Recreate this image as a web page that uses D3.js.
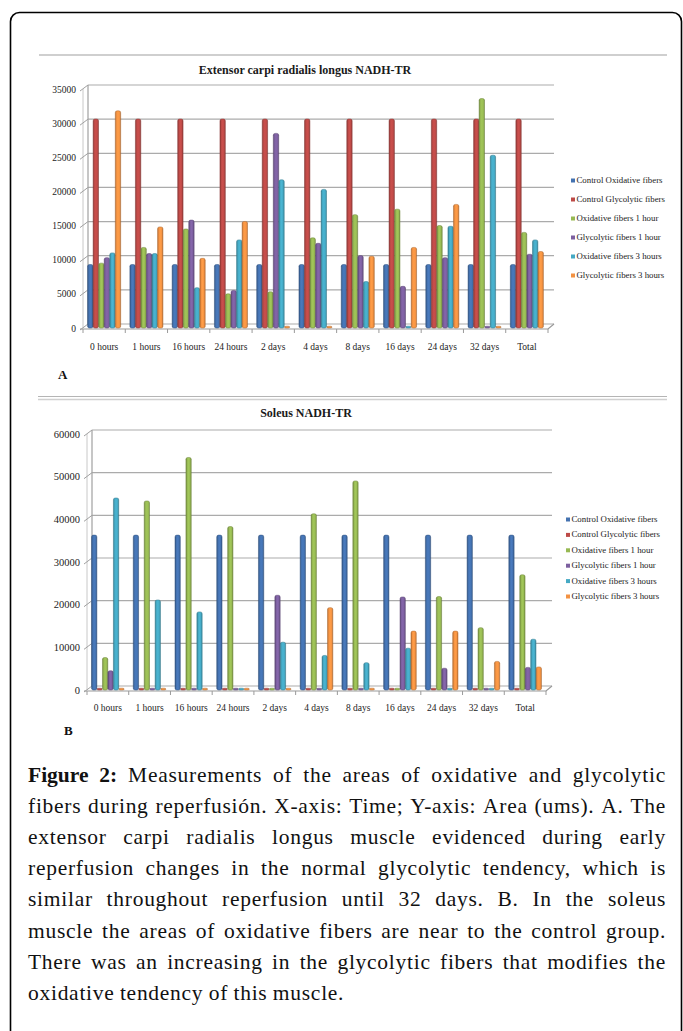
<!DOCTYPE html>
<html>
<head>
<meta charset="utf-8">
<script src="https://cdn.jsdelivr.net/npm/d3@7"></script>
<style>
  body { margin: 0; background: #fff; }
  svg { display: block; }
</style>
</head>
<body>
<div id="fig"></div>
<script>
// categories and series
const categories = ["0 hours", "1 hours", "16 hours", "24 hours", "2 days", "4 days", "8 days", "16 days", "24 days", "32 days", "Total"];
const seriesNames = ["Control Oxidative fibers", "Control Glycolytic fibers", "Oxidative fibers 1 hour",
                     "Glycolytic fibers 1 hour", "Oxidative fibers 3 hours", "Glycolytic fibers 3 hours"];
const seriesColors = ["#4472b0", "#bd4a47", "#97b953", "#7c5f9f", "#45a9c4", "#f39242"];

// A. Extensor carpi radialis longus NADH-TR
const ecrlControlOx  = [9300, 9300, 9300, 9300, 9300, 9300, 9300, 9300, 9300, 9300, 9300];
const ecrlControlGly = [30600, 30600, 30600, 30600, 30600, 30600, 30600, 30600, 30600, 30600, 30600];
const ecrlOx1h       = [9500, 11800, 14500, 5000, 5300, 13200, 16600, 17400, 15000, 33600, 14000];
const ecrlGly1h      = [10300, 10900, 15800, 5500, 28500, 12400, 10600, 6100, 10300, 0, 10800];
const ecrlOx3h       = [11000, 10900, 5900, 12900, 21700, 20300, 6800, 150, 14900, 25300, 12900];
const ecrlGly3h      = [31800, 14800, 10200, 15600, 0, 0, 10500, 11800, 18100, 0, 11200];
const ecrlTicks      = [0, 5000, 10000, 15000, 20000, 25000, 30000, 35000];

// B. Soleus NADH-TR
const solControlOx  = [36300, 36300, 36300, 36300, 36300, 36300, 36300, 36300, 36300, 36300, 36300];
const solControlGly = [0, 0, 0, 0, 0, 0, 0, 0, 0, 0, 0];
const solOx1h       = [7600, 44300, 54500, 38300, 0, 41300, 49000, 0, 21900, 14600, 27000];
const solGly1h      = [4500, 0, 0, 0, 22200, 0, 0, 21800, 5100, 0, 5300];
const solOx3h       = [45000, 21100, 18300, 0, 11200, 8100, 6400, 9800, 0, 0, 11900];
const solGly3h      = [0, 0, 0, 0, 0, 19300, 0, 13800, 13800, 6700, 5400];
const solTicks      = [0, 10000, 20000, 30000, 40000, 50000, 60000];

const captionLines = [
  "Figure 2: Measurements of the areas of oxidative and glycolytic",
  "fibers during reperfusión. X-axis: Time; Y-axis: Area (ums). A. The",
  "extensor carpi radialis longus muscle evidenced during early",
  "reperfusion changes in the normal glycolytic tendency, which is",
  "similar throughout reperfusion until 32 days. B. In the soleus",
  "muscle the areas of oxidative fibers are near to the control group.",
  "There was an increasing in the glycolytic fibers that modifies the",
  "oxidative tendency of this muscle."
];

const SERIF = "'Liberation Serif', 'Times New Roman', serif";
const W = 683, H = 1031;
const svg = d3.select("#fig").append("svg")
    .attr("width", W)
    .attr("height", H);

// column gradients (3d look)
const defs = svg.append("defs");
seriesColors.forEach((c, i) => {
    const g = defs.append("linearGradient")
        .attr("id", "grad" + i)
        .attr("x1", "0%").attr("x2", "100%").attr("y1", "0%").attr("y2", "0%");
    const base = d3.color(c);
    g.append("stop").attr("offset", "0%").attr("stop-color", base.darker(0.9));
    g.append("stop").attr("offset", "25%").attr("stop-color", base);
    g.append("stop").attr("offset", "50%").attr("stop-color", base.brighter(0.2));
    g.append("stop").attr("offset", "80%").attr("stop-color", base);
    g.append("stop").attr("offset", "100%").attr("stop-color", base.darker(0.9));
});

// outer frame
svg.append("rect")
    .attr("x", 10.5).attr("y", 12.5)
    .attr("width", 671).attr("height", 1060)
    .attr("rx", 9)
    .attr("fill", "none")
    .attr("stroke", "#000")
    .attr("stroke-width", 1.6);

// image borders
svg.append("line").attr("x1", 39).attr("x2", 667).attr("y1", 55).attr("y2", 55)
    .attr("stroke", "#cfcfcf").attr("stroke-width", 2);
svg.append("line").attr("x1", 38).attr("x2", 667).attr("y1", 396.5).attr("y2", 396.5)
    .attr("stroke", "#b5b5b5").attr("stroke-width", 1);
svg.append("line").attr("x1", 38).attr("x2", 667).attr("y1", 399.5).attr("y2", 399.5)
    .attr("stroke", "#d0d0d0").attr("stroke-width", 1.5);

function drawChart(cfg) {
    const g = svg.append("g");
    const series = cfg.series;

    const y = d3.scaleLinear().domain([0, cfg.yMax]).range([cfg.yBottom, cfg.yTop]);
    const x = d3.scaleBand().domain(categories).range([cfg.xLeft, cfg.xRight])
        .paddingInner(0.21).paddingOuter(0.105);
    const xs = d3.scaleBand().domain(d3.range(series.length)).range([0, x.bandwidth()]).padding(0.03);

    const dx = 5, dy = -4;   // back wall offset

    // gridlines on the back wall
    g.selectAll(".grid").data(cfg.ticks).enter().append("line")
        .attr("x1", cfg.xLeft + dx).attr("x2", cfg.xRight + dx + 1)
        .attr("y1", d => y(d) + dy).attr("y2", d => y(d) + dy)
        .attr("stroke", "#ababab").attr("stroke-width", 1.2);

    // left wall edge and diagonal ticks
    g.append("line")
        .attr("x1", cfg.xLeft + dx).attr("x2", cfg.xLeft + dx)
        .attr("y1", y(cfg.yMax) + dy).attr("y2", y(0) + dy)
        .attr("stroke", "#a0a0a0").attr("stroke-width", 1.2);
    g.append("line")
        .attr("x1", cfg.xLeft).attr("x2", cfg.xLeft)
        .attr("y1", y(cfg.yMax)).attr("y2", y(0))
        .attr("stroke", "#c8c8c8").attr("stroke-width", 1);
    g.selectAll(".ytick").data(cfg.ticks).enter().append("line")
        .attr("x1", cfg.xLeft - 3).attr("x2", cfg.xLeft + dx)
        .attr("y1", d => y(d) + 2).attr("y2", d => y(d) + dy)
        .attr("stroke", "#a0a0a0").attr("stroke-width", 1);

    // floor front edge
    g.append("path")
        .attr("d", `M${cfg.xLeft - 3},${y(0) + 1} L${cfg.xRight},${y(0) + 1} L${cfg.xRight + dx + 1},${y(0) + dy}`)
        .attr("fill", "none").attr("stroke", "#9a9a9a").attr("stroke-width", 1.2);

    // category tick marks
    const bounds = categories.map(c => x(c) - x.step() * x.paddingInner() / 2).concat([cfg.xRight]);
    g.selectAll(".xtick").data(bounds).enter().append("line")
        .attr("x1", d => d).attr("x2", d => d)
        .attr("y1", y(0) + 1).attr("y2", y(0) + 5)
        .attr("stroke", "#9a9a9a").attr("stroke-width", 1);

    // y labels
    g.selectAll(".ylab").data(cfg.ticks).enter().append("text")
        .attr("x", cfg.yLabelX).attr("y", d => y(d) + 3.5)
        .attr("text-anchor", "end")
        .attr("font-family", SERIF)
        .attr("font-size", cfg.yLabelSize)
        .attr("fill", "#222")
        .text(d => d);

    // x labels
    g.selectAll(".xlab").data(categories).enter().append("text")
        .attr("x", d => x(d) + x.bandwidth() / 2).attr("y", cfg.xLabelY)
        .attr("text-anchor", "middle")
        .attr("font-family", SERIF)
        .attr("font-size", "9.5px")
        .attr("fill", "#222")
        .text(d => d);

    // bars
    series.forEach((vals, si) => {
        g.selectAll(".bar" + si).data(vals).enter().append("rect")
            .attr("x", (d, i) => x(categories[i]) + xs(si))
            .attr("width", xs.bandwidth())
            .attr("y", d => Math.min(y(d), y(0) - 1.8))
            .attr("height", d => Math.max(y(0) - y(d), 1.8))
            .attr("rx", 1.8)
            .attr("fill", "url(#grad" + si + ")")
            .attr("stroke", d3.color(seriesColors[si]).darker(0.9))
            .attr("stroke-width", 0.5);
    });

    // title
    g.append("text")
        .attr("x", cfg.titleX).attr("y", cfg.titleY)
        .attr("text-anchor", "middle")
        .attr("font-family", SERIF)
        .attr("font-weight", "bold")
        .attr("font-size", "12px")
        .attr("fill", "#1a1a1a")
        .text(cfg.title);

    // legend
    const leg = g.selectAll(".leg").data(seriesNames).enter().append("g")
        .attr("transform", (d, i) => `translate(${cfg.legX},${cfg.legY + i * cfg.legStep})`);
    leg.append("rect")
        .attr("x", 0).attr("y", -3.5).attr("width", 4).attr("height", 4)
        .attr("fill", (d, i) => seriesColors[i]);
    leg.append("text")
        .attr("x", 5.5).attr("y", 1)
        .attr("font-family", SERIF)
        .attr("font-size", "8.8px")
        .attr("fill", "#222")
        .text(d => d);

    // panel letter
    g.append("text")
        .attr("x", cfg.letterX).attr("y", cfg.letterY)
        .attr("font-family", SERIF)
        .attr("font-weight", "bold")
        .attr("font-size", "13px")
        .attr("fill", "#111")
        .text(cfg.letter);
}

drawChart({
    series: [ecrlControlOx, ecrlControlGly, ecrlOx1h, ecrlGly1h, ecrlOx3h, ecrlGly3h],
    ticks: ecrlTicks, yMax: 35000,
    yTop: 89, yBottom: 328,
    xLeft: 83, xRight: 548,
    yLabelX: 76, yLabelSize: "9.5px", xLabelY: 350,
    title: "Extensor carpi radialis longus NADH-TR", titleX: 305, titleY: 74,
    legX: 571, legY: 182, legStep: 19,
    letter: "A", letterX: 58, letterY: 379
});

drawChart({
    series: [solControlOx, solControlGly, solOx1h, solGly1h, solOx3h, solGly3h],
    ticks: solTicks, yMax: 60000,
    yTop: 434, yBottom: 690,
    xLeft: 87, xRight: 546,
    yLabelX: 80, yLabelSize: "10.5px", xLabelY: 711,
    title: "Soleus NADH-TR", titleX: 306, titleY: 417,
    legX: 566, legY: 521, legStep: 15.4,
    letter: "B", letterX: 64, letterY: 735
});

// caption, justified
const cap = svg.append("g")
    .attr("font-family", SERIF)
    .attr("font-size", "21.5px")
    .attr("fill", "#111");
const capLeft = 28, capRight = 666, capTop = 782, capStep = 31.1;

// small letter spacing so the unjustified last line matches its width
const lastLine = captionLines[captionLines.length - 1];
const probe = cap.append("text").text(lastLine);
const natural = probe.node().getComputedTextLength();
probe.remove();
const ls = Math.max(0, (319 - natural) / lastLine.length);

captionLines.forEach((line, li) => {
    const words = line.split(" ");
    const yPos = capTop + li * capStep;
    const nodes = words.map((w, wi) => {
        const bold = li === 0 && wi < 2;
        return cap.append("text")
            .attr("y", yPos)
            .attr("letter-spacing", bold ? null : ls + "px")
            .attr("font-weight", bold ? "bold" : null)
            .text(w);
    });
    const widths = nodes.map(n => n.node().getComputedTextLength());
    const total = d3.sum(widths);
    const last = li === captionLines.length - 1;
    const gap = last ? 5.4 : (capRight - capLeft - total) / (words.length - 1);
    let xPos = capLeft;
    nodes.forEach((n, i) => {
        n.attr("x", xPos);
        xPos += widths[i] + gap;
    });
});
</script>
</body>
</html>
